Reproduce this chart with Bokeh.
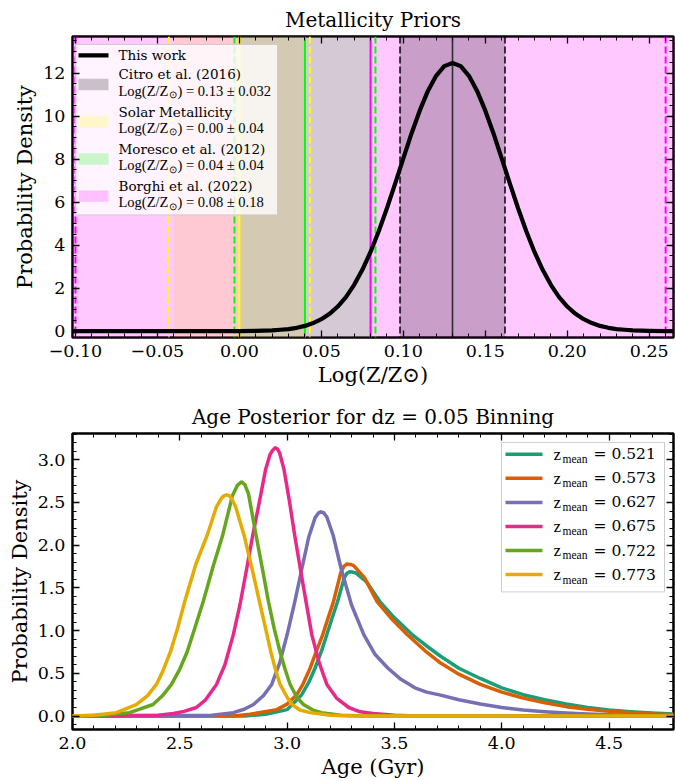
from bokeh.plotting import figure
from bokeh.layouts import column
from bokeh.models import (Range1d, SingleIntervalTicker, LinearAxis, CustomJSTickFormatter,
                          BoxAnnotation, Span)
from bokeh.core.properties import value
from bokeh.embed import file_html
from bokeh.resources import INLINE

SERIF = "DejaVu Serif"
MATH = "Liberation Serif"

# ---------------- data: top panel ----------------
metal_x = [-0.105, -0.05, 0.0, 0.01, 0.02, 0.025, 0.03, 0.035, 0.04, 0.045, 0.05, 0.055, 0.06,
           0.065, 0.07, 0.075, 0.08, 0.085, 0.09, 0.095, 0.10, 0.105, 0.11, 0.115, 0.12, 0.125,
           0.13, 0.135, 0.14, 0.145, 0.15, 0.155, 0.16, 0.165, 0.17, 0.175, 0.18, 0.185, 0.19,
           0.195, 0.20, 0.205, 0.21, 0.215, 0.22, 0.225, 0.23, 0.235, 0.24, 0.25, 0.26, 0.27]
metal_pdf = [0.0, 0.0, 0.0, 0.01, 0.03, 0.06, 0.09, 0.15, 0.24, 0.37, 0.55, 0.80, 1.14,
             1.58, 2.15, 2.85, 3.68, 4.64, 5.71, 6.86, 8.03, 9.19, 10.25, 11.17, 11.87, 12.32,
             12.47, 12.32, 11.87, 11.17, 10.25, 9.19, 8.03, 6.86, 5.71, 4.64, 3.68, 2.85, 2.15,
             1.58, 1.14, 0.80, 0.55, 0.37, 0.24, 0.15, 0.09, 0.06, 0.03, 0.01, 0.0, 0.0]

prior_names = ["Citro et al. (2016)", "Solar Metallicity", "Moresco et al. (2012)", "Borghi et al. (2022)"]
prior_center = [0.13, 0.00, 0.04, 0.08]
prior_sigma = [0.032, 0.04, 0.04, 0.18]
prior_edge_lo = [0.098, -0.043, -0.003, -0.100]
prior_edge_hi = [0.162, 0.043, 0.083, 0.260]
prior_colors = ["black", "yellow", "lime", "magenta"]
band_order = [1, 2, 3, 0]

# ---------------- data: bottom panel ----------------
zmeans = ["0.521", "0.573", "0.627", "0.675", "0.722", "0.773"]
age_colors = ["#1b9e77", "#d95f02", "#7570b3", "#e7298a", "#66a61e", "#e6ab02"]

age_x_0521 = [2.0, 2.8, 2.9, 3.0, 3.068, 3.10, 3.13, 3.16, 3.185, 3.21, 3.235, 3.265, 3.278, 3.291,
              3.305, 3.32, 3.37, 3.432, 3.50, 3.582, 3.65, 3.715, 3.8, 3.9, 4.0, 4.1, 4.2, 4.3,
              4.4, 4.5, 4.6, 4.7, 4.8]
age_p_0521 = [0.0, 0.0, 0.02, 0.075, 0.25, 0.39, 0.56, 0.76, 0.954, 1.15, 1.34, 1.61, 1.67, 1.69,
              1.685, 1.675, 1.57, 1.34, 1.15, 0.954, 0.82, 0.70, 0.56, 0.44, 0.33, 0.25, 0.19,
              0.14, 0.10, 0.07, 0.05, 0.035, 0.025]

age_x_0573 = [2.0, 2.75, 2.827, 2.952, 3.0, 3.045, 3.075, 3.107, 3.135, 3.166, 3.19, 3.216, 3.25,
              3.265, 3.279, 3.295, 3.31, 3.36, 3.419, 3.49, 3.559, 3.64, 3.715, 3.8, 3.9, 4.0,
              4.1, 4.2, 4.3, 4.4, 4.5, 4.6, 4.7, 4.8]
age_p_0573 = [0.0, 0.0, 0.02, 0.075, 0.14, 0.25, 0.38, 0.56, 0.75, 0.954, 1.14, 1.34, 1.68,
              1.755, 1.78, 1.775, 1.76, 1.62, 1.34, 1.13, 0.954, 0.77, 0.62, 0.49, 0.37, 0.28,
              0.21, 0.155, 0.11, 0.08, 0.055, 0.04, 0.025, 0.015]

age_x_0627 = [2.0, 2.65, 2.749, 2.80, 2.843, 2.89, 2.928, 2.965, 3.0, 3.035, 3.069, 3.10, 3.13,
              3.145, 3.157, 3.17, 3.185, 3.215, 3.251, 3.30, 3.357, 3.41, 3.47, 3.53, 3.595,
              3.65, 3.715, 3.8, 3.9, 4.0, 4.1, 4.2, 4.3, 4.4, 4.5, 4.6, 4.8]
age_p_0627 = [0.0, 0.01, 0.04, 0.08, 0.135, 0.24, 0.37, 0.62, 0.954, 1.33, 1.73, 2.09, 2.32,
              2.375, 2.39, 2.38, 2.33, 2.11, 1.73, 1.30, 0.954, 0.72, 0.56, 0.43, 0.33,
              0.28, 0.245, 0.19, 0.14, 0.10, 0.07, 0.05, 0.035, 0.025, 0.015, 0.01, 0.005]

age_x_0675 = [2.0, 2.4, 2.47, 2.52, 2.577, 2.62, 2.671, 2.71, 2.749, 2.78, 2.812, 2.84, 2.871,
              2.90, 2.92, 2.932, 2.944, 2.955, 2.965, 2.985, 3.011, 3.035, 3.061, 3.09, 3.115,
              3.15, 3.185, 3.23, 3.287, 3.34, 3.40, 3.5, 3.6, 4.8]
age_p_0675 = [0.0, 0.01, 0.03, 0.055, 0.10, 0.19, 0.37, 0.60, 0.95, 1.30, 1.73, 2.12, 2.51,
              2.89, 3.06, 3.11, 3.14, 3.125, 3.08, 2.89, 2.51, 2.12, 1.73, 1.31, 0.95,
              0.62, 0.37, 0.21, 0.10, 0.05, 0.03, 0.01, 0.0, 0.0]

age_x_0722 = [2.0, 2.15, 2.266, 2.375, 2.42, 2.461, 2.50, 2.534, 2.57, 2.609, 2.655, 2.70, 2.745,
              2.768, 2.788, 2.803, 2.82, 2.855, 2.885, 2.913, 2.94, 2.967, 2.99, 3.014, 3.045,
              3.076, 3.12, 3.16, 3.25, 3.35, 4.8]
age_p_0722 = [0.0, 0.01, 0.04, 0.135, 0.24, 0.37, 0.55, 0.75, 1.03, 1.34, 1.75, 2.12, 2.58,
              2.70, 2.74, 2.71, 2.60, 2.12, 1.72, 1.34, 1.02, 0.75, 0.55, 0.37, 0.22,
              0.135, 0.07, 0.04, 0.01, 0.0, 0.0]

age_x_0773 = [2.0, 2.1, 2.204, 2.297, 2.35, 2.391, 2.42, 2.456, 2.49, 2.523, 2.575, 2.628, 2.67,
              2.695, 2.707, 2.718, 2.73, 2.74, 2.76, 2.799, 2.835, 2.871, 2.90, 2.924, 2.945,
              2.967, 3.0, 3.022, 3.06, 3.107, 3.2, 3.3, 4.8]
age_p_0773 = [0.0, 0.01, 0.04, 0.135, 0.24, 0.37, 0.52, 0.75, 1.03, 1.34, 1.78, 2.12, 2.445,
              2.555, 2.58, 2.59, 2.58, 2.55, 2.45, 2.12, 1.74, 1.34, 1.02, 0.75, 0.55,
              0.37, 0.22, 0.135, 0.07, 0.04, 0.01, 0.0, 0.0]

age_x = [age_x_0521, age_x_0573, age_x_0627, age_x_0675, age_x_0722, age_x_0773]
age_p = [age_p_0521, age_p_0573, age_p_0627, age_p_0675, age_p_0722, age_p_0773]

# ---------------- layout constants ----------------
W = 675
H1, H2 = 392, 389
BL, BR = 72, 2
FW = W - BL - BR
T1, B1 = 35, 55
T2, B2 = 41, 49
FH1 = H1 - T1 - B1
FH2 = H2 - T2 - B2
X1R = (-0.1018, 0.2648)
Y1R = (-0.3, 13.7)
X2R = (2.0, 4.8)
Y2R = (-0.1575, 3.3075)


def conv(xr, yr, fh):
    def fx(px):
        return xr[0] + px * (xr[1] - xr[0]) / FW

    def fy(py):
        return yr[1] - py * (yr[1] - yr[0]) / fh
    return fx, fy


def fmt(d):
    return CustomJSTickFormatter(
        code="if (Math.abs(tick) < 1e-9) { tick = 0; } return tick.toFixed(%d).replace('-', '\\u2212');" % d)


def style_axis(ax, labels=True):
    ax.axis_line_color = None
    ax.major_tick_in = 7
    ax.major_tick_out = 0
    ax.minor_tick_in = 4
    ax.minor_tick_out = 0
    ax.major_tick_line_width = 1.3
    ax.minor_tick_line_width = 1.0
    ax.major_tick_line_color = "black"
    ax.minor_tick_line_color = "black"
    if labels:
        ax.major_label_text_font = SERIF
        ax.major_label_text_font_size = "17.5px"
        ax.major_label_text_color = "black"
        ax.major_label_standoff = 7
        ax.axis_label_text_font = SERIF
        ax.axis_label_text_font_size = "21px"
        ax.axis_label_text_font_style = "normal"
        ax.axis_label_text_color = "black"
        ax.axis_label_standoff = 3
    else:
        ax.formatter = CustomJSTickFormatter(code="return '';")
        ax.major_label_text_font_size = "1px"
        ax.major_label_standoff = 0


def make_fig(h, t, b, xr, yr, title, xint, xminor, yint, yminor, xd, yd, xlabel, ylabel):
    p = figure(width=W, height=h, x_range=Range1d(*xr), y_range=Range1d(*yr),
               output_backend="svg", toolbar_location=None, title=title,
               min_border_left=BL, min_border_right=BR, min_border_top=t, min_border_bottom=b)
    p.xgrid.visible = False
    p.ygrid.visible = False
    p.outline_line_color = "black"
    p.outline_line_width = 2.5
    p.outline_line_alpha = 1.0
    p.background_fill_color = "white"
    p.border_fill_color = "white"
    p.title.text_font = SERIF
    p.title.text_font_size = "20px"
    p.title.text_font_style = "normal"
    p.title.align = "center"
    p.title.text_color = "black"
    p.xaxis.ticker = SingleIntervalTicker(interval=xint, num_minor_ticks=xminor)
    p.yaxis.ticker = SingleIntervalTicker(interval=yint, num_minor_ticks=yminor)
    p.xaxis.formatter = fmt(xd)
    p.yaxis.formatter = fmt(yd)
    p.xaxis.axis_label = xlabel
    p.yaxis.axis_label = ylabel
    style_axis(p.xaxis[0])
    style_axis(p.yaxis[0])
    top = LinearAxis(ticker=SingleIntervalTicker(interval=xint, num_minor_ticks=xminor))
    right = LinearAxis(ticker=SingleIntervalTicker(interval=yint, num_minor_ticks=yminor))
    style_axis(top, False)
    style_axis(right, False)
    p.add_layout(top, "above")
    p.add_layout(right, "right")
    return p


# ================= top panel =================
p1 = make_fig(H1, T1, B1, X1R, Y1R, "Metallicity Priors", 0.05, 5, 2, 4, 2, 0,
              "Log(Z/Z\u2299)", "Probability Density")

for i in band_order:
    lo = prior_center[i] - prior_sigma[i]
    hi = prior_center[i] + prior_sigma[i]
    if prior_colors[i] == "magenta":
        lo, hi = min(lo, X1R[0]), max(hi, X1R[1])
    p1.add_layout(BoxAnnotation(left=lo, right=hi, fill_color=prior_colors[i], fill_alpha=0.21,
                                line_color=None, level="image"))

for i in band_order:
    c = prior_colors[i]
    alpha = 0.75 if c == "black" else 1.0
    for loc in (prior_edge_lo[i], prior_edge_hi[i]):
        p1.add_layout(Span(location=loc, dimension="height", line_color=c, line_alpha=alpha,
                           line_width=2, line_dash="7 3", level="underlay"))
    p1.add_layout(Span(location=prior_center[i], dimension="height", line_color=c,
                       line_alpha=alpha, line_width=1.6 if c == "black" else 2,
                       level="underlay"))

p1.line(metal_x, metal_pdf, line_color="black", line_width=4.2, line_join="round")

# legend (manual, offsets in frame pixels)
fx, fy = conv(X1R, Y1R, FH1)
L0 = 75 - BL
p1.quad(left=[fx(L0)], right=[fx(L0 + 202)], top=[fy(8)], bottom=[fy(179)],
        fill_color="white", fill_alpha=0.8, line_color="#cccccc", line_width=1)
p1.line([fx(L0 + 3), fx(L0 + 33)], [fy(19), fy(19)], line_color="black", line_width=4.2)
p1.text([fx(L0 + 43)], [fy(19)], text=["This work"], text_font=value(SERIF), text_font_size="13.5px",
        text_baseline="middle", text_align="left", text_color="black")
for k, i in enumerate([0, 1, 2, 3]):
    y1 = 38 + 37.3 * k
    y2 = y1 + 16.5
    p1.quad(left=[fx(L0 + 3)], right=[fx(L0 + 33)], top=[fy(y1 + 4.5)], bottom=[fy(y1 + 16)],
            fill_color=prior_colors[i], fill_alpha=0.21, line_color=None)
    p1.text([fx(L0 + 43)], [fy(y1)], text=[prior_names[i]], text_font=value(SERIF),
            text_font_size="13.5px", text_baseline="middle", text_align="left", text_color="black")
    val = "%.2f \u00b1 %s" % (prior_center[i], prior_sigma[i])
    p1.text([fx(L0 + 43)], [fy(y2)], text=["Log(Z/Z"], text_font=value(MATH), text_font_size="14.5px",
            text_baseline="middle", text_align="left", text_color="black")
    p1.text([fx(L0 + 93)], [fy(y2 + 4)], text=["\u2299"], text_font=value(MATH), text_font_size="10px",
            text_baseline="middle", text_align="left", text_color="black")
    p1.text([fx(L0 + 102)], [fy(y2)], text=[") = " + val], text_font=value(MATH),
            text_font_size="14.5px", text_baseline="middle", text_align="left", text_color="black")

# ================= bottom panel =================
p2 = make_fig(H2, T2, B2, X2R, Y2R, "Age Posterior for dz = 0.05 Binning", 0.5, 5, 0.5, 5, 1, 1,
              "Age (Gyr)", "Probability Density")

for xs, ys, col in zip(age_x, age_p, age_colors):
    p2.line(xs, ys, line_color=col, line_width=3.5, line_join="round")

gx, gy = conv(X2R, Y2R, FH2)
M0 = 501 - BL
p2.quad(left=[gx(M0)], right=[gx(M0 + 163)], top=[gy(9)], bottom=[gy(160)],
        fill_color="white", fill_alpha=0.8, line_color="#cccccc", line_width=1)
for k, (zm, col) in enumerate(zip(zmeans, age_colors)):
    yc = 21 + 24.3 * k
    p2.line([gx(M0 + 4), gx(M0 + 41)], [gy(yc), gy(yc)], line_color=col, line_width=3.5)
    p2.text([gx(M0 + 52)], [gy(yc)], text=["z"], text_font=value(MATH), text_font_size="17px",
            text_baseline="middle", text_align="left", text_color="black")
    p2.text([gx(M0 + 61)], [gy(yc + 5)], text=["mean"], text_font=value(MATH), text_font_size="11.5px",
            text_baseline="middle", text_align="left", text_color="black")
    p2.text([gx(M0 + 92)], [gy(yc)], text=["= " + zm], text_font=value(SERIF), text_font_size="15.5px",
            text_baseline="middle", text_align="left", text_color="black")

layout = column(p1, p2, spacing=0)
open("out.html", "w").write(file_html(layout, INLINE))
